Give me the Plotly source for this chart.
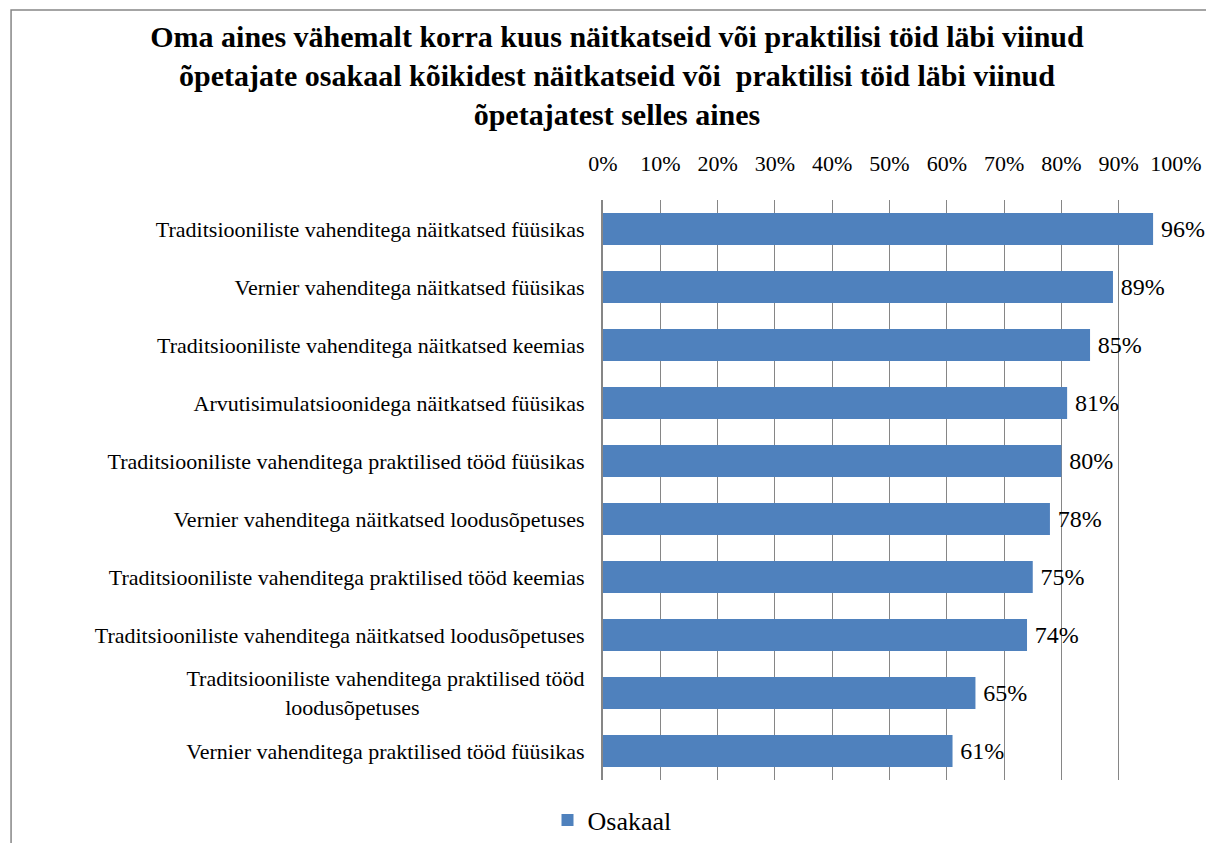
import plotly.graph_objects as go

categories = [
    "Traditsiooniliste vahenditega näitkatsed füüsikas",
    "Vernier vahenditega näitkatsed füüsikas",
    "Traditsiooniliste vahenditega näitkatsed keemias",
    "Arvutisimulatsioonidega näitkatsed füüsikas",
    "Traditsiooniliste vahenditega praktilised tööd füüsikas",
    "Vernier vahenditega näitkatsed loodusõpetuses",
    "Traditsiooniliste vahenditega praktilised tööd keemias",
    "Traditsiooniliste vahenditega näitkatsed loodusõpetuses",
    "Traditsiooniliste vahenditega praktilised tööd<br>loodusõpetuses" + "\u00a0" * 30,
    "Vernier vahenditega praktilised tööd füüsikas",
]
values = [0.96, 0.89, 0.85, 0.81, 0.80, 0.78, 0.75, 0.74, 0.65, 0.61]
tick_vals = [0, 0.1, 0.2, 0.3, 0.4, 0.5, 0.6, 0.7, 0.8, 0.9, 1.0]
tick_text = ["0%", "10%", "20%", "30%", "40%", "50%", "60%", "70%", "80%", "90%", "100%"]

title_text = ("Oma aines vähemalt korra kuus näitkatseid või praktilisi töid läbi viinud<br>"
              "õpetajate osakaal kõikidest näitkatseid või  praktilisi töid läbi viinud<br>"
              "õpetajatest selles aines")

SERIF = "Liberation Serif"
BLUE = "#4F81BD"
GRID = "#868686"

fig = go.Figure()
fig.add_trace(go.Bar(
    y=categories, x=values, orientation="h", name="Osakaal",
    marker=dict(color=BLUE, line=dict(width=0)),
    text=["\u2009" + f"{round(v*100)}%" for v in values], textposition="outside",
    textfont=dict(family=SERIF, size=24, color="black"),
    cliponaxis=False,
))

# page body has an 8px default margin; compensate so the plot lands where the reference has it
OFF = 8
W, H = 1214 - OFF, 843 - OFF
L, R, T, B = 603 - OFF, 1214 - 1178, 200 - OFF, 843 - 780
pw, ph = W - L - R, H - T - B

fig.update_layout(
    width=W, height=H,
    margin=dict(l=L, r=R, t=T, b=B, pad=0),
    paper_bgcolor="white", plot_bgcolor="white",
    bargap=0.45,
    font=dict(family=SERIF, size=22, color="black"),
    title=dict(text=title_text, x=(617 - OFF) / W, xanchor="center",
               y=1 - 39 / H, yanchor="top", yref="container",
               font=dict(family=SERIF, size=30, color="black", weight="bold")),
    showlegend=True,
    legend=dict(orientation="h", xref="container", yref="container",
                x=(612 - OFF) / W, xanchor="center", y=(H - (820 - OFF)) / H, yanchor="middle",
                font=dict(family=SERIF, size=26, color="black"),
                bgcolor="rgba(0,0,0,0)"),
    xaxis=dict(range=[0, 1], side="top", tickvals=tick_vals, ticktext=tick_text,
               showgrid=True, gridcolor=GRID, gridwidth=1, zeroline=False,
               showline=False, ticks="", ticklabelstandoff=24,
               tickfont=dict(family=SERIF, size=22, color="black"), fixedrange=True),
    yaxis=dict(autorange="reversed", showline=True, linecolor=GRID, linewidth=2,
               ticks="", ticklabelstandoff=12, showgrid=False,
               tickfont=dict(family=SERIF, size=22, color="black"), fixedrange=True),
    shapes=[dict(type="rect", xref="paper", yref="paper",
                 x0=(1 - L) / pw, x1=2.0, y0=-1.0, y1=(H - B - (10 - OFF)) / ph,
                 line=dict(color=GRID, width=1.5), fillcolor="rgba(0,0,0,0)", layer="below")],
)

fig.write_html("out.html")
